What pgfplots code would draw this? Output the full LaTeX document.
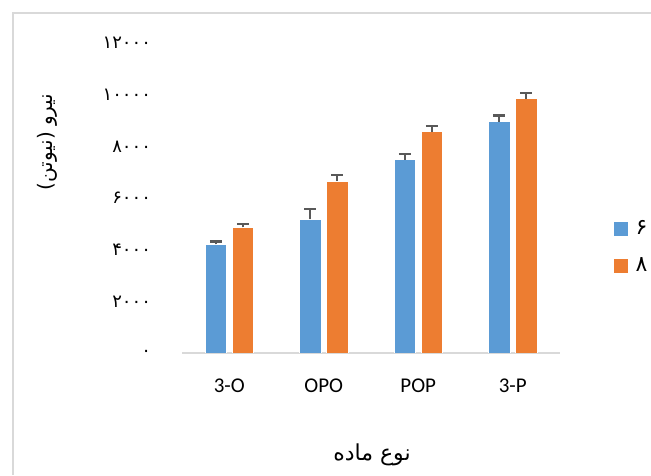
\documentclass[border=0pt]{standalone}
\usepackage{pgfplots}
\pgfplotsset{compat=1.18}
\usepackage{fontspec}
\setmainfont{Carlito}
\newfontfamily\arabicfont[Script=Arabic]{DejaVu Sans}
\TeXXeTstate=1
\definecolor{cblue}{HTML}{5B9BD5}
\definecolor{corange}{HTML}{ED7D31}
\definecolor{errc}{HTML}{595959}
\definecolor{framec}{HTML}{D9D9D9}
\begin{document}
\begin{tikzpicture}
\useasboundingbox (0,0) rectangle (325.5pt,237.5pt);
\draw[framec, line width=1pt] (6.5pt,0) -- (6.5pt,231pt) -- (325.5pt,231pt);
\begin{axis}[
  at={(91pt,61pt)}, anchor=south west,
  scale only axis, width=189pt, height=155pt,
  ybar=2.75pt, bar width=10.75pt,
  xmin=-0.5, xmax=3.5, ymin=0, ymax=12000,
  scaled y ticks=false,
  xtick=data, xticklabels={3-O,OPO,POP,3-P},
  ytick={0,2000,4000,6000,8000,10000,12000},
  yticklabels={۰,۲۰۰۰,۴۰۰۰,۶۰۰۰,۸۰۰۰,۱۰۰۰۰,۱۲۰۰۰},
  yticklabel style={font=\arabicfont\fontsize{9}{10}\selectfont, anchor=east, xshift=-12pt},
  xticklabel style={font=\fontsize{10.5}{12}\selectfont, yshift=-5pt},
  axis x line*=bottom, axis y line*=left,
  x axis line style={draw=framec, line width=1pt},
  y axis line style={draw=none},
  tick style={draw=none},
  legend style={at={(1.125,0.34)}, anchor=west, draw=none, fill=none,
    font=\arabicfont\fontsize{11}{13}\selectfont, row sep=6pt,
    /tikz/every odd column/.append style={column sep=2pt}},
  legend image code/.code={\fill[#1,draw=none] (0pt,-3.5pt) rectangle (7pt,3.5pt);},
  error bars/y dir=plus, error bars/y explicit,
  error bars/error bar style={errc, line width=1pt},
  error bars/error mark options={rotate=90, mark size=3pt, errc, line width=1.2pt},
]
\addplot[fill=cblue, draw=white, line width=0.4pt] coordinates {
  (0,4200) +- (0,120)
  (1,5170) +- (0,400)
  (2,7490) +- (0,210)
  (3,8960) +- (0,240)
};
\addplot[fill=corange, draw=white, line width=0.4pt] coordinates {
  (0,4860) +- (0,140)
  (1,6650) +- (0,240)
  (2,8560) +- (0,220)
  (3,9840) +- (0,220)
};
\legend{۶,۸}
\end{axis}
\node[rotate=90, font=\arabicfont\fontsize{10}{12}\selectfont] at (23.5pt,166.5pt) {\beginR نیرو (نیوتن)\endR};
\node[font=\arabicfont\fontsize{11}{13}\selectfont] at (186pt,10pt) {\beginR نوع ماده\endR};
\end{tikzpicture}
\end{document}
